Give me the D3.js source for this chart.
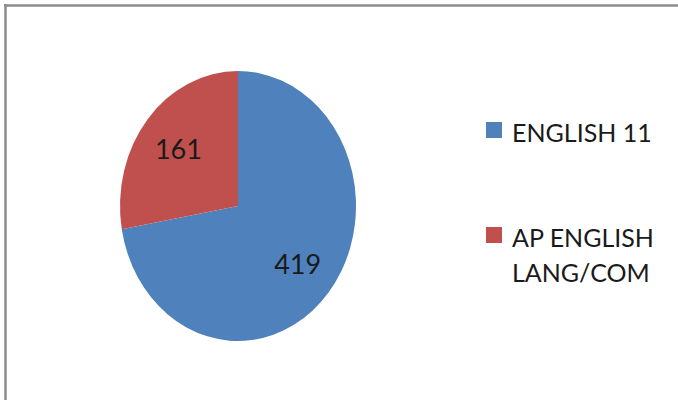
<!DOCTYPE html>
<html><head><meta charset="utf-8">
<script src="https://cdn.jsdelivr.net/npm/d3@7"></script>
<style>html,body{margin:0;padding:0;background:#fff;}svg{display:block;}</style>
</head><body>
<svg id="c" width="678" height="400"></svg>
<script>
const categories = ["ENGLISH 11", "AP ENGLISH LANG/COM"];
const values = [419, 161];
const legendLines = [["ENGLISH 11"], ["AP ENGLISH", "LANG/COM"]];
const colors = ["#4f81bd", "#c0504d"];

const svg = d3.select("#c");
const font = "Lato, 'Open Sans', sans-serif";

// frame
svg.append("line").attr("x1", 4).attr("x2", 678).attr("y1", 5.5).attr("y2", 5.5)
  .attr("stroke", "#8c8c8c").attr("stroke-width", 2.5);
svg.append("line").attr("x1", 5.5).attr("x2", 5.5).attr("y1", 4).attr("y2", 400)
  .attr("stroke", "#8c8c8c").attr("stroke-width", 2.5);

const cx = 238, cy = 206, rx = 118, ry = 135;
const sy = ry / rx;
const pie = d3.pie().sort(null).value(d => d);
const arcs = pie(values);
const arc = d3.arc().innerRadius(0).outerRadius(rx);
const labelArc = d3.arc().innerRadius(rx * 0.66).outerRadius(rx * 0.66);

const g = svg.append("g").attr("transform", `translate(${cx},${cy})`);
g.append("g").attr("transform", `scale(1,${sy})`)
  .selectAll("path").data(arcs).join("path")
  .attr("d", arc).attr("fill", (d, i) => colors[i]);

g.selectAll("text.lbl").data(arcs).join("text").attr("class", "lbl")
  .attr("x", d => labelArc.centroid(d)[0])
  .attr("y", d => labelArc.centroid(d)[1] * sy)
  .attr("text-anchor", "middle").attr("dominant-baseline", "central")
  .attr("font-family", font).attr("font-size", 27).attr("fill", "#1a1a1a")
  .text(d => d.data);

// legend
const legY = [133, 238];
const lg = svg.append("g");
categories.forEach((c, i) => {
  lg.append("rect").attr("x", 486).attr("y", legY[i] - 11).attr("width", 16).attr("height", 16)
    .attr("fill", colors[i]);
  legendLines[i].forEach((t, j) => {
    lg.append("text").attr("x", 512).attr("y", legY[i] + 9 + j * 35)
      .attr("font-family", font).attr("font-size", 25).attr("fill", "#1a1a1a")
      .text(t);
  });
});
</script>
</body></html>
